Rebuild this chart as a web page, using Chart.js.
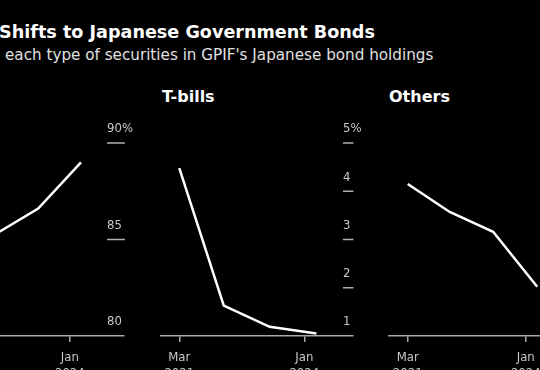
<!DOCTYPE html>
<html>
<head>
<meta charset="utf-8">
<script src="https://cdn.jsdelivr.net/npm/chart.js@4.4.1/dist/chart.umd.min.js"></script>
<style>
  html, body { margin: 0; padding: 0; background: #000; }
  #wrap { position: relative; width: 540px; height: 370px; overflow: hidden; background: #000; }
  canvas { position: absolute; top: 0; }
  .txt { position: absolute; white-space: nowrap; font-family: 'DejaVu Sans', sans-serif; }
  #title { left: -1px; top: 22px; font-size: 17.6px; font-weight: bold; color: #fff; }
  #subtitle { left: 5px; top: 46px; font-size: 15.2px; color: #e0e0e0; }
  .ptitle { top: 87px; font-size: 16px; font-weight: bold; color: #fff; }
</style>
</head>
<body>
<div id="wrap">
  <div id="title" class="txt">Shifts to Japanese Government Bonds</div>
  <div id="subtitle" class="txt">each type of securities in GPIF's Japanese bond holdings</div>
  <div class="txt ptitle" style="left:162px">T-bills</div>
  <div class="txt ptitle" style="left:389px">Others</div>
  <canvas id="jgb" width="228" height="400" style="left:-64px"></canvas>
  <canvas id="tbills" width="233" height="400" style="left:160px"></canvas>
  <canvas id="others" width="242" height="400" style="left:388px"></canvas>
</div>
<script>
// months counted from Jan 2021 (0 = Jan 2021)
var pointMonths = [2, 14.1, 26.6, 39.3];
var tickMonths = [2, 36];
var tickLabels = [['Mar', '2021'], ['Jan', '2024']];

// share of Japanese bond holdings, %
var jgbShare = [83.8, 85.3, 86.6, 89.0];
var tbillShare = [4.48, 1.63, 1.19, 1.05];
var otherShare = [4.15, 3.57, 3.16, 2.02];

var jgbTicks = [80, 85, 90];
var smallTicks = [1, 2, 3, 4, 5];

var font = "'DejaVu Sans Condensed', 'DejaVu Sans', sans-serif";

// draws the value labels above short dashes on the right side
var rightTicks = {
    id: 'rightTicks',
    afterDraw: function (chart, args, opts) {
        var ctx = chart.ctx;
        var y = chart.scales.y;
        ctx.save();
        ctx.font = '13px ' + font;
        ctx.fillStyle = '#c8c8c8';
        ctx.strokeStyle = '#b0b0b0';
        ctx.lineWidth = 1.5;
        ctx.textBaseline = 'middle';
        ctx.textAlign = 'left';
        opts.ticks.forEach(function (v, i) {
            var py = y.getPixelForValue(v);
            var txt = i === opts.ticks.length - 1 ? v + '%' : String(v);
            ctx.fillText(txt, opts.x, py - 14);
            if (v !== y.min) {
                var w = ctx.measureText(String(v)).width + 3;
                ctx.beginPath();
                ctx.moveTo(opts.x, py);
                ctx.lineTo(opts.x + w, py);
                ctx.stroke();
            }
        });
        ctx.restore();
    }
};

function makePanel(id, values, yTicks, xMin, xMax, labelX) {
    return new Chart(document.getElementById(id), {
        type: 'line',
        data: {
            datasets: [{
                data: values.map(function (v, i) { return { x: pointMonths[i], y: v }; }),
                borderColor: '#ffffff',
                borderWidth: 2.5,
                pointRadius: 0,
                tension: 0,
                clip: false
            }]
        },
        options: {
            responsive: false,
            animation: false,
            devicePixelRatio: 1,
            layout: { padding: { top: 143, bottom: 24, left: 0, right: 40 } },
            plugins: {
                legend: { display: false },
                tooltip: { enabled: false },
                rightTicks: { x: labelX, ticks: yTicks }
            },
            scales: {
                x: {
                    type: 'linear',
                    min: xMin,
                    max: xMax,
                    afterBuildTicks: function (s) {
                        s.ticks = tickMonths.map(function (m) { return { value: m }; });
                    },
                    afterFit: function (s) {
                        s.height = 40;
                        s.paddingLeft = 0;
                        s.paddingRight = 0;
                    },
                    border: { display: true, color: '#a8a8a8', width: 1.5 },
                    grid: { display: true, drawOnChartArea: false, drawTicks: true, tickLength: 6, color: '#a8a8a8', lineWidth: 1.5 },
                    ticks: {
                        color: '#c8c8c8',
                        font: { family: font, size: 13 },
                        padding: 8,
                        maxRotation: 0,
                        autoSkip: false,
                        callback: function (v) {
                            var i = tickMonths.indexOf(v);
                            return i >= 0 ? tickLabels[i] : '';
                        }
                    }
                },
                y: {
                    display: false,
                    min: yTicks[0],
                    max: yTicks[yTicks.length - 1]
                }
            }
        },
        plugins: [rightTicks]
    });
}

makePanel('jgb', jgbShare, jgbTicks, -3.74, 52.07, 171);
makePanel('tbills', tbillShare, smallTicks, -3.25, 49.25, 183);
makePanel('others', otherShare, smallTicks, -3.68, 54.5, 190);
</script>
</body>
</html>
